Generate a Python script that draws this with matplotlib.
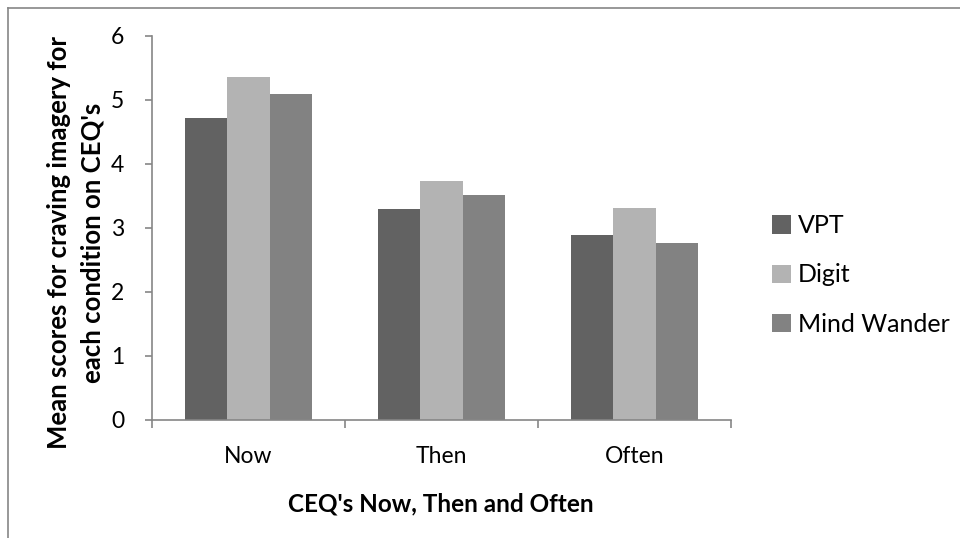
import matplotlib
matplotlib.use("Agg")
import matplotlib.pyplot as plt
import numpy as np
from matplotlib.lines import Line2D

categories = ["Now", "Then", "Often"]
series_names = ["VPT", "Digit", "Mind Wander"]
vpt = [4.72, 3.30, 2.89]
digit = [5.36, 3.73, 3.31]
mind_wander = [5.10, 3.52, 2.77]
colors = ["#626262", "#b3b3b3", "#828282"]
ylabel_lines = ["Mean scores for craving imagery for", "each condition on CEQ's"]
xlabel = "CEQ's Now, Then and Often"

plt.rcParams['font.family'] = ['Lato', 'DejaVu Sans']

W, H = 960, 538
fig = plt.figure(figsize=(9.6, 5.38), dpi=100)
ax = fig.add_axes([152/W, (H-420)/H, 579/W, 384/H])

x = np.arange(len(categories))
w = 0.219
for i, (vals, name) in enumerate(zip([vpt, digit, mind_wander], series_names)):
    ax.bar(x + (i - 1) * w, vals, width=w, color=colors[i], label=name, edgecolor='none')

ax.set_xlim(-0.5, 2.5)
ax.set_ylim(0, 6)
ax.set_yticks(range(0, 7))
ax.set_xticks(x)
ax.set_xticklabels(categories, fontsize=16.5)
ax.set_xticks([-0.5, 0.5, 1.5, 2.5], minor=True)
ax.tick_params(axis='x', which='major', length=0, pad=19)
ax.tick_params(axis='x', which='minor', length=6, color='#868686', direction='out', width=1.2)
ax.tick_params(axis='y', length=5, color='#868686', direction='out', width=1.2, labelsize=16.5, pad=15)
for s in ['top', 'right']:
    ax.spines[s].set_visible(False)
for s in ['left', 'bottom']:
    ax.spines[s].set_color('#868686')
    ax.spines[s].set_linewidth(1.2)

# axis titles
ycenter = (H - 242.5) / H
for xb, line in zip([67, 100], ylabel_lines):
    fig.text(xb / W, ycenter, line, rotation=90, rotation_mode='anchor', ha='center', va='baseline',
             fontsize=18.5, fontweight='bold')
fig.text(441 / W, (H - 511) / H, xlabel, ha='center', va='baseline', fontsize=17.5, fontweight='bold')

leg = ax.legend(loc='center left', bbox_to_anchor=(772/W, (H-275)/H), bbox_transform=fig.transFigure,
                frameon=False, fontsize=18, handlelength=0.75, handleheight=0.75, handletextpad=0.3,
                labelspacing=1.05, borderaxespad=0, borderpad=0)

fig.add_artist(Line2D([7.5/W, 7.5/W], [0, 1 - 7.5/H], color='#868686', lw=1.2, transform=fig.transFigure))
fig.add_artist(Line2D([7.5/W, 1], [1 - 7.5/H, 1 - 7.5/H], color='#868686', lw=1.2, transform=fig.transFigure))

fig.savefig("out.png", dpi=100)
